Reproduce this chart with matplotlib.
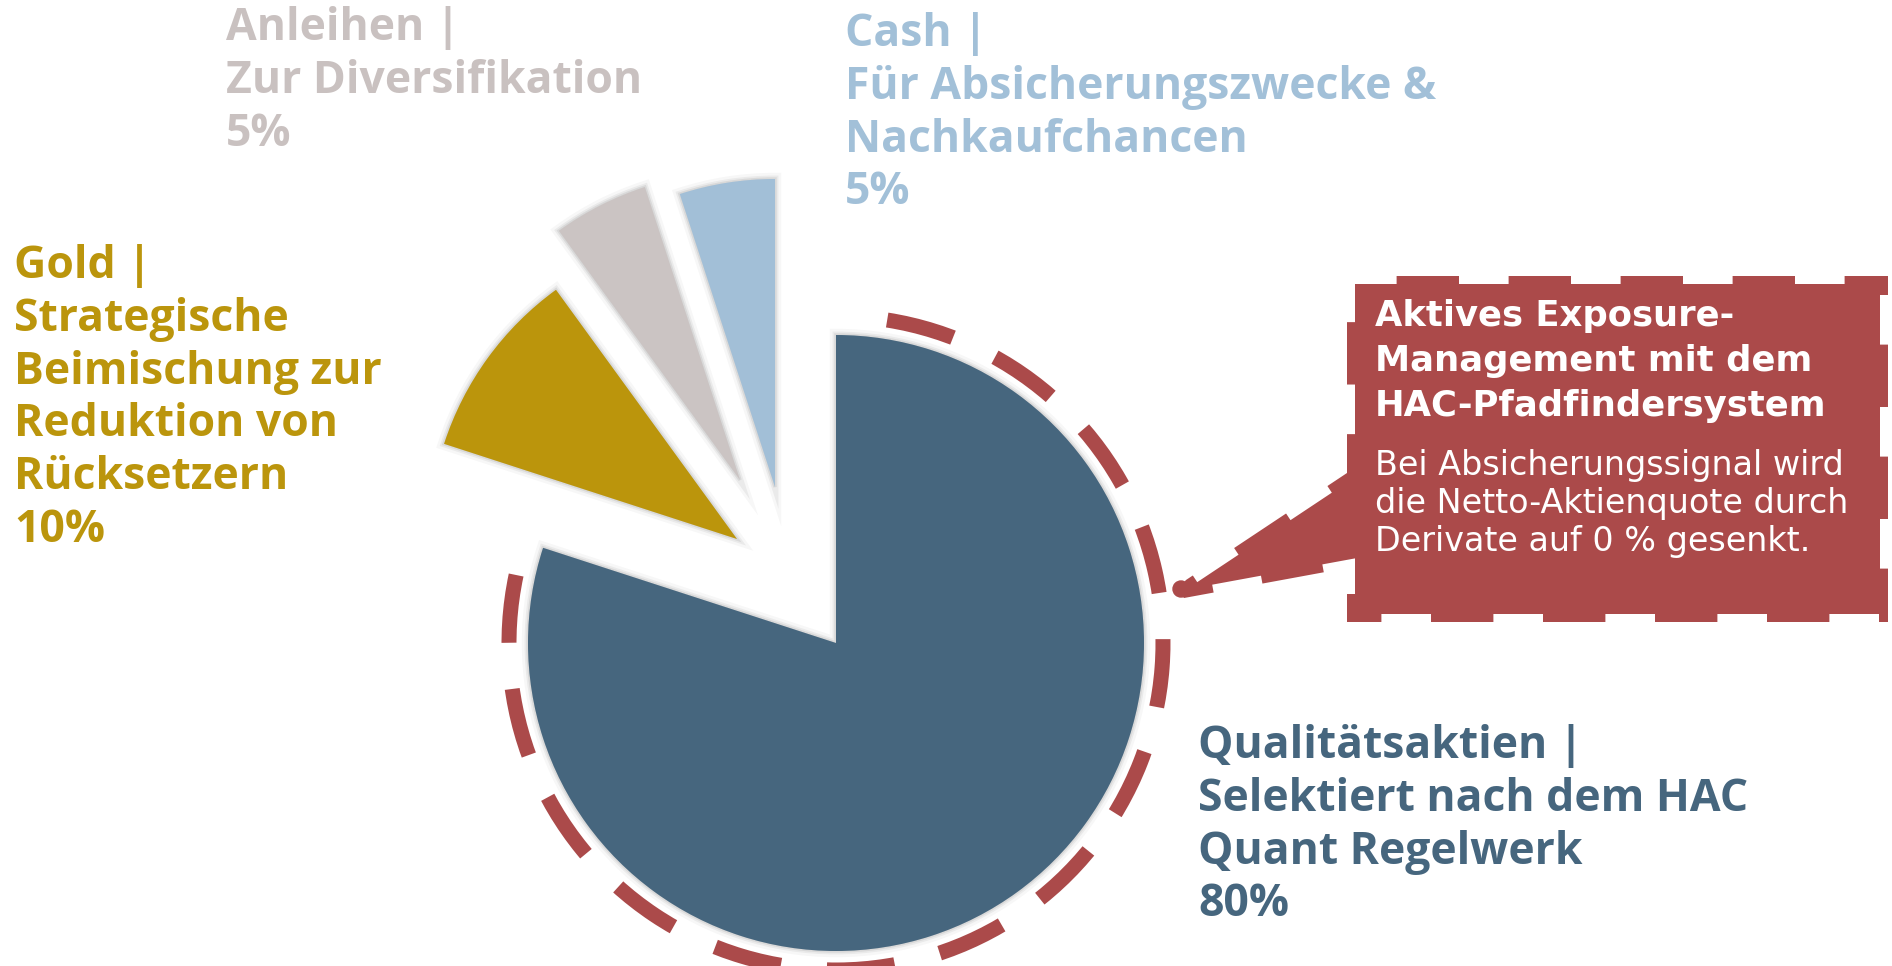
import matplotlib
matplotlib.use("Agg")
import matplotlib.pyplot as plt
from matplotlib.patches import Arc, PathPatch, Circle
from matplotlib.path import Path
import matplotlib.patheffects as pe

# data
shares = [80, 10, 5, 5]
names = ["Qualitätsaktien", "Gold", "Anleihen", "Cash"]
notes = ["Selektiert nach dem HAC\nQuant Regelwerk",
         "Strategische\nBeimischung zur\nReduktion von\nRücksetzern",
         "Zur Diversifikation",
         "Für Absicherungszwecke &\nNachkaufchancen"]
colors = ["#46667e", "#bb950c", "#cbc4c3", "#a2bfd7"]
label_colors = ["#46667e", "#bb950c", "#c9c1c0", "#a2c0d8"]
box_title = "Aktives Exposure-\nManagement mit dem\nHAC-Pfadfindersystem"
box_text = "Bei Absicherungssignal wird\ndie Netto-Aktienquote durch\nDerivate auf 0 % gesenkt."

W, H = 1892, 966
red = "#ab4a4a"
px = 0.72  # points per pixel at dpi 100

fig = plt.figure(figsize=(W / 100, H / 100), dpi=100)
ax = fig.add_axes([0, 0, 1, 1])

cx, cy, R = 836, H - 643, 308
wedges, _ = ax.pie(shares, colors=colors, startangle=90, counterclock=False,
                   radius=R, center=(cx, cy), frame=True)
ax.set_xlim(0, W)
ax.set_ylim(0, H)
ax.set_aspect("equal")
ax.axis("off")

# pull the small slices out
offsets = [(0, 0), (-99, 104), (-96, 163), (-61, 156)]
shadow = [pe.Stroke(linewidth=9, foreground="black", alpha=0.03),
          pe.Stroke(linewidth=5, foreground="black", alpha=0.05),
          pe.Stroke(linewidth=2.5, foreground="black", alpha=0.07),
          pe.Normal()]
for w, (dx, dy) in zip(wedges, offsets):
    w.set_center((cx + dx, cy + dy))
    w.set_linewidth(0)
    w.set_path_effects(shadow)

# dashed ring around the big slice
ring = Arc((cx, cy), 2 * 327, 2 * 327, theta1=-192, theta2=81,
           color=red, linewidth=15 * px, capstyle="butt")
ring.set_linestyle((0, (4.55, 3.09)))
ax.add_patch(ring)

# callout box with tail
verts = [(1347, H - 276), (1888, H - 276), (1888, H - 622), (1347, H - 622),
         (1347, H - 568), (1184, H - 598), (1177, H - 590), (1186, H - 580),
         (1347, H - 473), (1347, H - 276)]
codes = [Path.MOVETO] + [Path.LINETO] * (len(verts) - 2) + [Path.CLOSEPOLY]
box_path = Path(verts, codes)
ax.add_patch(PathPatch(box_path, facecolor=red, edgecolor="none"))
edge = PathPatch(box_path, facecolor="none", edgecolor="white",
                 linewidth=16 * px, capstyle="butt", joinstyle="miter")
edge.set_linestyle((0, (3.1, 3.9)))
ax.add_patch(edge)
ax.add_patch(Circle((1181, H - 589), 8, color=red))

ax.text(1375, H - 299, box_title, color="white", fontsize=25.5, fontweight="bold",
        family="DejaVu Sans", va="top", ha="left", linespacing=1.4)
ax.text(1375, H - 449, box_text, color="white", fontsize=24, fontweight="normal",
        family="DejaVu Sans", va="top", ha="left", linespacing=1.19)

# labels
label_pos = [(1198, H - 724), (14, H - 244), (226, H - 6), (845, H - 12)]
for i in range(len(shares)):
    txt = names[i] + " |\n" + notes[i] + "\n" + str(shares[i]) + "%"
    x, y = label_pos[i]
    ax.text(x, y, txt, color=label_colors[i], fontsize=32, fontweight="bold",
            family="Open Sans", va="top", ha="left", linespacing=1.23)

fig.savefig("out.png", dpi=100, facecolor="white")
